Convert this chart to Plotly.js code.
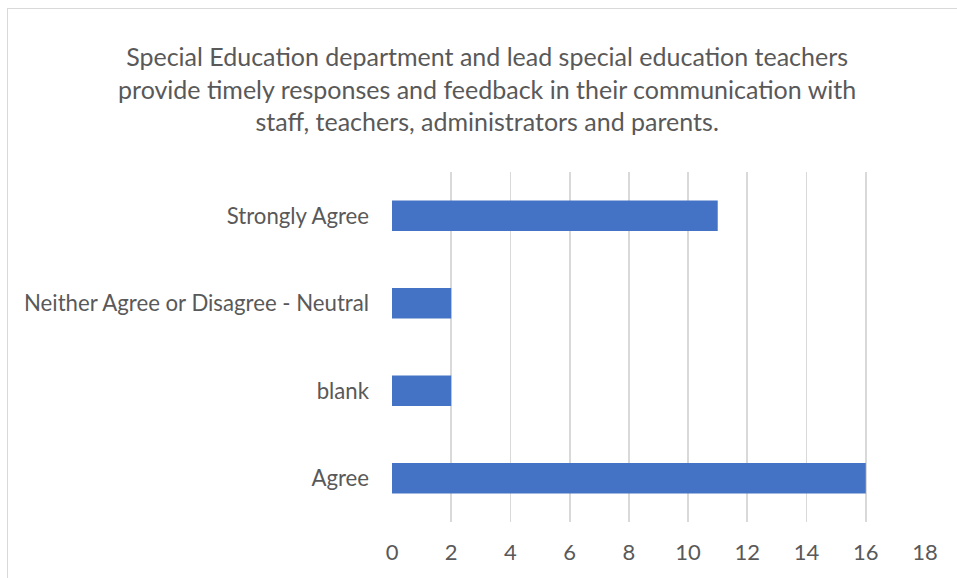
<!DOCTYPE html>
<html>
<head>
<meta charset="utf-8">
<script src="https://cdn.plot.ly/plotly-3.0.1.min.js"></script>
<style>
  html, body { margin: 0; padding: 0; background: #fff; }
  #wrap { position: relative; width: 957px; height: 578px; overflow: hidden; }
  #frame { position: absolute; left: 7px; top: 8px; width: 1000px; height: 700px; border: 1px solid #d9d9d9; box-sizing: border-box; pointer-events: none; }
  #chart { position: absolute; left: 0; top: 0; width: 957px; height: 578px; }
</style>
</head>
<body>
<div id="wrap">
  <div id="chart"></div>
  <div id="frame"></div>
</div>
<script>
const categories = ["Agree", "blank", "Neither Agree or Disagree - Neutral", "Strongly Agree"];
const counts = [16, 2, 2, 11];
const xTicks = [0, 2, 4, 6, 8, 10, 12, 14, 16, 18];
const titleText = "Special Education department and lead special education teachers<br>provide timely responses and feedback in their communication with<br>staff, teachers, administrators and parents.";

const font = "Lato, sans-serif";

Plotly.newPlot("chart", [{
  type: "bar",
  orientation: "h",
  y: categories,
  x: counts,
  marker: { color: "#4472c4" },
  hoverinfo: "x+y"
}], {
  width: 957,
  height: 578,
  margin: { l: 392, r: 32, t: 172, b: 56 },
  paper_bgcolor: "rgba(0,0,0,0)",
  plot_bgcolor: "rgba(0,0,0,0)",
  bargap: 0.65,
  showlegend: false,
  font: { family: font, color: "#595959", size: 22 },
  title: {
    text: titleText,
    font: { family: font, size: 25, color: "#595959" },
    x: 0.509, xanchor: "center", xref: "container",
    y: 0.885, yanchor: "top", yref: "container"
  },
  xaxis: {
    range: [0, 18],
    tickvals: xTicks,
    ticktext: xTicks.map(String),
    showgrid: true,
    gridcolor: "#d9d9d9",
    gridwidth: 1.8,
    zeroline: false,
    showline: false,
    ticks: "",
    ticklabelstandoff: 15,
    tickfont: { family: font, size: 22, color: "#595959" },
    fixedrange: true
  },
  yaxis: {
    type: "category",
    categoryorder: "array",
    categoryarray: categories,
    showgrid: false,
    zeroline: false,
    showline: false,
    ticks: "",
    ticklabelstandoff: 22,
    tickfont: { family: font, size: 22.2, color: "#595959" },
    fixedrange: true
  }
}, { displayModeBar: false, staticPlot: true });
</script>
</body>
</html>
